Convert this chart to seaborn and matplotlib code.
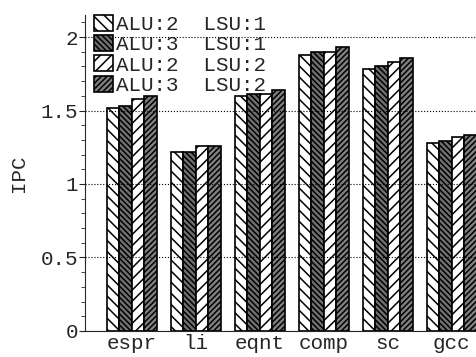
import pandas as pd
import matplotlib
matplotlib.use('Agg')
import matplotlib.pyplot as plt
import seaborn as sns
from matplotlib.ticker import MultipleLocator

benchmarks = ['espr', 'li', 'eqnt', 'comp', 'sc', 'gcc']
configs = ['ALU:2  LSU:1', 'ALU:3  LSU:1', 'ALU:2  LSU:2', 'ALU:3  LSU:2']
ipc_a2_l1 = [1.52, 1.22, 1.60, 1.88, 1.78, 1.28]
ipc_a3_l1 = [1.53, 1.22, 1.61, 1.90, 1.80, 1.29]
ipc_a2_l2 = [1.58, 1.26, 1.61, 1.90, 1.83, 1.32]
ipc_a3_l2 = [1.60, 1.26, 1.64, 1.93, 1.86, 1.33]

rows = []
for cfg, vals in zip(configs, [ipc_a2_l1, ipc_a3_l1, ipc_a2_l2, ipc_a3_l2]):
    for b, v in zip(benchmarks, vals):
        rows.append({'bench': b, 'config': cfg, 'IPC': v})
df = pd.DataFrame(rows)

sns.set_style('ticks')
plt.rcParams['font.family'] = ['Liberation Mono', 'DejaVu Sans']
plt.rcParams['hatch.linewidth'] = 1.1

fig = plt.figure(figsize=(4.76, 3.57), dpi=100)
ax = fig.add_axes([0.179, 0.073, 0.821, 0.885])
sns.barplot(data=df, x='bench', y='IPC', hue='config', hue_order=configs,
            order=benchmarks, width=0.78, palette=['white', '#707070', 'white', '#808080'],
            edgecolor='black', linewidth=1.2, saturation=1, ax=ax, legend=False)

# hatch patterns per config
hatches = ['\\\\\\', '\\\\\\\\\\\\', '///', '//////']
for cont, h in zip(ax.containers, hatches):
    for p in cont:
        p.set_hatch(h)

ax.set_xlim(-0.73, 5.38)
ax.set_ylim(0, 2.15)
ax.yaxis.set_minor_locator(MultipleLocator(0.1))
ax.set_yticks([0, 0.5, 1, 1.5, 2])
ax.set_yticklabels(['0', '0.5', '1', '1.5', '2'])
ax.tick_params(axis='y', which='major', length=4, width=0.8, labelsize=15, pad=1)
ax.tick_params(axis='y', which='minor', length=3, width=0.6)
ax.tick_params(axis='x', length=0, labelsize=15, pad=2)
ax.set_xlabel('')
ax.set_ylabel('IPC', fontsize=15, labelpad=9)
ax.grid(axis='y', linestyle=':', color='black', linewidth=0.8)
ax.set_axisbelow(False)
sns.despine(ax=ax, top=True, right=True)

ax.legend(handles=[cont[0] for cont in ax.containers], labels=configs,
          loc='upper left', bbox_to_anchor=(-0.01, 1.04), frameon=False,
          fontsize=15, handlelength=0.9, handleheight=0.8,
          handletextpad=0.15, labelspacing=0.05, borderaxespad=0.2)

fig.savefig('out.png', dpi=100)
